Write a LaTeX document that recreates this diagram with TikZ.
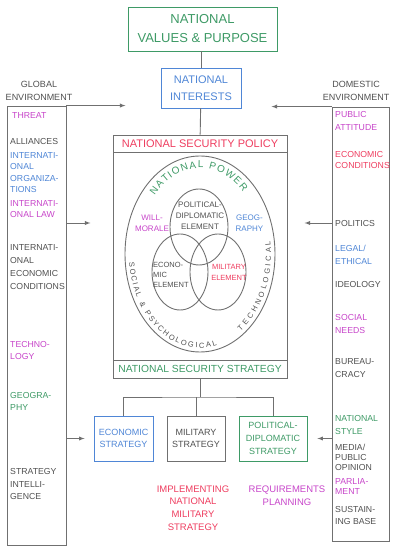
\documentclass[tikz,border=0pt]{standalone}
\usepackage{fontspec}
\setmainfont{Liberation Sans}
\usetikzlibrary{calc}
\usetikzlibrary{shapes,arrows}
\usetikzlibrary{decorations.text}

\definecolor{linegray}{HTML}{707070}
\definecolor{txtgray}{HTML}{505050}
\definecolor{ngreen}{HTML}{3E9A66}
\definecolor{nblue}{HTML}{4F86D6}
\definecolor{nmag}{HTML}{C745C9}
\definecolor{nred}{HTML}{EE3D5F}

\newcommand{\fs}[2]{\fontsize{#1}{#2}\selectfont}

\begin{document}
\begin{tikzpicture}[x=1pt,y=1pt,
  box/.style={draw=linegray, line width=0.9pt, rectangle, inner sep=0pt, align=center},
  item/.style={anchor=west, align=left, inner sep=0pt, text=txtgray, font=\fs{8.7}{11.5}},
  inner/.style={align=center, inner sep=0pt, text=txtgray, font=\fs{8}{11}},
  link/.style={draw=linegray, line width=0.9pt},
  flow/.style={>=latex, ->, draw=linegray, line width=0.9pt}]
\useasboundingbox (0,0) rectangle (408,549);

% values, interests and policy
\node[box, draw=ngreen, text=ngreen, minimum width=149pt, minimum height=44pt, font=\fs{13}{19}] (values) at (202.5,520) {NATIONAL\\VALUES \& PURPOSE};
\node[box, draw=nblue, text=nblue, minimum width=80pt, minimum height=40pt, font=\fs{11}{17}] (interests) at (201,461) {NATIONAL\\INTERESTS};
\node[box, minimum width=174pt, minimum height=243pt] (frame) at (200,292.5) {};
\node[box, text=nred, minimum width=174pt, minimum height=17pt, font=\fs{11}{13}] (policy) at (200,405.5) {NATIONAL SECURITY POLICY};
\node[box, text=ngreen, minimum width=174pt, minimum height=18pt, font=\fs{10.3}{12}] (strategy) at (200,180) {NATIONAL SECURITY STRATEGY};
\draw[link] (values.south -| interests) -- (interests.north);
\draw[link] (interests) -- (policy);

% national power
\coordinate (powerc) at (200,295);
\draw[link] (powerc) ellipse [x radius=75, y radius=98];
\draw[link] (199,322) ellipse [x radius=29, y radius=38];
\draw[link] (180,277) ellipse [x radius=28, y radius=38];
\draw[link] (218,277) ellipse [x radius=28, y radius=38];
\path[decorate, decoration={text along path, text align={fit to path},
  text={|\fs{10}{12}\color{ngreen}|NATIONAL POWER}}]
  ($(powerc)+(137:62 and 86)$) arc[start angle=137, end angle=46, x radius=62, y radius=86];
\path[decorate, decoration={text along path, text align={fit to path},
  text={|\fs{7.5}{9}\color{txtgray}|SOCIAL {\&} PSYCHOLOGICAL}}]
  ($(powerc)+(185:71 and 94)$) arc[start angle=185, end angle=284, x radius=71, y radius=94];
\path[decorate, decoration={text along path, text align={fit to path},
  text={|\fs{7.5}{9}\color{txtgray}|TECHNOLOGICAL}}]
  ($(powerc)+(-55:71 and 94)$) arc[start angle=-55, end angle=8, x radius=71, y radius=94];
\node[inner] (polel) at (200,333) {POLITICAL-\\DIPLOMATIC\\ELEMENT};
\node[inner, anchor=west, align=left, font=\fs{7.5}{10}] (ecoel) at (153,274) {ECONO-\\MIC\\ELEMENT};
\node[inner, text=nred, font=\fs{7.5}{11}] (milel) at (229,276.5) {MILITARY\\ELEMENT};
\node[inner, text=nmag] (will) at (152,326) {WILL-\\MORALE};
\node[inner, text=nblue] (geog) at (249.5,326) {GEOG-\\RAPHY};

% strategies
\node[box, draw=nblue, text=nblue, minimum width=59pt, minimum height=45pt, font=\fs{9}{12}] (econ) at (123.5,110.5) {ECONOMIC\\STRATEGY};
\node[box, text=txtgray, minimum width=58pt, minimum height=45pt, font=\fs{9}{12}] (mil) at (196,110.5) {MILITARY\\STRATEGY};
\node[box, draw=ngreen, text=ngreen, minimum width=68pt, minimum height=45pt, font=\fs{9}{13}] (pol) at (273,110.5) {POLITICAL-\\DIPLOMATIC\\STRATEGY};
\coordinate (split) at (200,152);
\draw[link] (strategy) -- (strategy.south |- split);
\draw[link] (econ.north) |- (split) -| (pol.north);
\draw[link] (mil.north) -- (mil.north |- split);
\node[align=center, text=nred, font=\fs{9.5}{12.7}] (implement) at (193,41) {IMPLEMENTING\\NATIONAL\\MILITARY\\STRATEGY};
\node[align=center, text=nmag, font=\fs{9.5}{13}] (reqplan) at (287,53.5) {REQUIREMENTS\\PLANNING};

% global environment
\node[align=center, text=txtgray, font=\fs{9}{13}] (globallbl) at (39,458.5) {GLOBAL\\ENVIRONMENT};
\node[box, minimum width=59pt, minimum height=439pt] (globalcol) at (36.5,223.5) {};
\node[item, text=nmag] (threat) at (12,433) {THREAT};
\node[item] (alliances) at (10,407) {ALLIANCES};
\node[item, text=nblue] (intorg) at (10,376.5) {INTERNATI-\\ONAL\\ORGANIZA-\\TIONS};
\node[item, text=nmag, font=\fs{8.7}{10.5}] (intlaw) at (10,340) {INTERNATI-\\ONAL LAW};
\node[item, font=\fs{8.7}{13}] (intecon) at (10,281.5) {INTERNATI-\\ONAL\\ECONOMIC\\CONDITIONS};
\node[item, text=nmag] (techno) at (10,198.5) {TECHNO-\\LOGY};
\node[item, text=ngreen] (geogra) at (10,147.5) {GEOGRA-\\PHY};
\node[item, font=\fs{8.7}{12.5}] (intel) at (10,64.5) {STRATEGY\\INTELLI-\\GENCE};

% domestic environment
\node[align=center, text=txtgray, font=\fs{9}{13}] (domlbl) at (356,458.5) {DOMESTIC\\ENVIRONMENT};
\node[box, minimum width=57pt, minimum height=434pt] (domcol) at (360.5,225) {};
\node[item, text=nmag, font=\fs{8.7}{13}] (public) at (335,427.5) {PUBLIC\\ATTITUDE};
\node[item, text=nred] (domecon) at (335,389) {ECONOMIC\\CONDITIONS};
\node[item] (politics) at (335,325) {POLITICS};
\node[item, text=nblue, font=\fs{8.7}{13}] (legal) at (335,294.5) {LEGAL/\\ETHICAL};
\node[item] (ideology) at (335,264) {IDEOLOGY};
\node[item, text=nmag, font=\fs{8.7}{13.5}] (social) at (335,225) {SOCIAL\\NEEDS};
\node[item, font=\fs{8.7}{13}] (bureau) at (335,180.5) {BUREAU-\\CRACY};
\node[item, text=ngreen, font=\fs{8.7}{13.5}] (style) at (335,124) {NATIONAL\\STYLE};
\node[item, font=\fs{8.7}{10}] (media) at (335,92) {MEDIA/\\PUBLIC\\OPINION};
\node[item, text=nmag, font=\fs{8.7}{10}] (parlia) at (335,62) {PARLIA-\\MENT};
\node[item, font=\fs{8.7}{12}] (sustain) at (335,33) {SUSTAIN-\\ING BASE};

% influences
\coordinate (globalin) at ($(globalcol.north east)+(59,0)$);
\coordinate (domin) at ($(domcol.north west)+(-60,0)$);
\draw[flow] (globalcol.north east) -- (globalin);
\draw[flow] (domcol.north west) -- (domin);
\coordinate (globalmid) at ($(globalcol.east |- will)+(24,0)$);
\coordinate (dommid) at ($(domcol.west |- will)+(-27,0)$);
\draw[flow] (globalcol.east |- will) -- (globalmid);
\draw[flow] (domcol.west |- will) -- (dommid);
\coordinate (globallow) at ($(econ.west)+(-9,0)$);
\coordinate (domlow) at ($(pol.east)+(10,0)$);
\draw[flow] (globalcol.east |- econ) -- (globallow);
\draw[flow] (domcol.west |- pol) -- (domlow);
\end{tikzpicture}
\end{document}
